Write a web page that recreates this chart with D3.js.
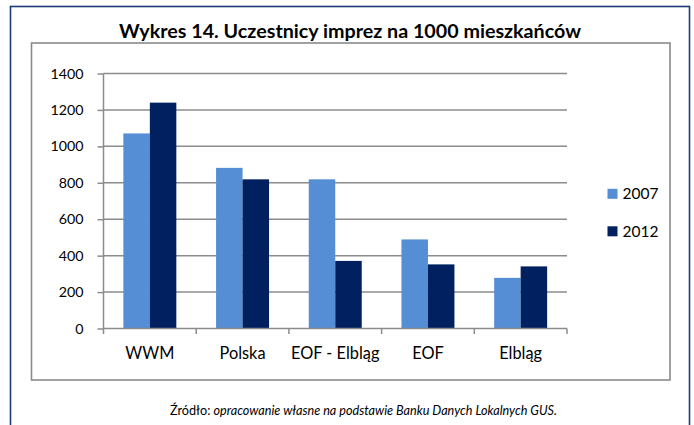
<!DOCTYPE html>
<html>
<head>
<meta charset="utf-8">
<script src="https://cdn.jsdelivr.net/npm/d3@7"></script>
<style>
  body { margin: 0; background: #fff; }
  text { font-family: Lato, "Open Sans", sans-serif; fill: #000; }
</style>
</head>
<body>
<script>
// Data
var categories = ["WWM", "Polska", "EOF - Elbląg", "EOF", "Elbląg"]
var years = ["2007", "2012"]
var values2007 = [1071, 882, 819, 489, 278]
var values2012 = [1240, 819, 371, 352, 341]
var yTicks = [0, 200, 400, 600, 800, 1000, 1200, 1400]

var title = "Wykres 14. Uczestnicy imprez na 1000 mieszkańców"
var sourceLabel = "Źródło: "
var sourceText = "opracowanie własne na podstawie Banku Danych Lokalnych GUS."

// Layout
var svg_width = 694, svg_height = 425
var plot = {left: 103.5, right: 567, top: 73.5, bottom: 328.5}
var colors = {"2007": "#558ed5", "2012": "#002060"}
var grid_color = "#8c8c8c"

var svg = d3.select("body")
  .append("svg")
  .attr("width", svg_width)
  .attr("height", svg_height)

// font size so that a string gets a wanted width
function sizeFor(str, weight, style, target) {
  var t = svg.append("text")
    .style("font-size", "100px")
    .style("font-weight", weight)
    .style("font-style", style)
    .text(str)
  var w = t.node().getComputedTextLength()
  t.remove()
  return 100 * target / w
}

var tickSize = sizeFor("1400", "normal", "normal", 33)
var catSize = sizeFor("Polska", "normal", "normal", 46)
var legSize = sizeFor("2007", "normal", "normal", 36)
var titleSize = sizeFor(title, "bold", "normal", 462)

// Outer frame
svg.append("rect")
  .attr("x", 10.5).attr("y", 6.5)
  .attr("width", 679).attr("height", 440)
  .attr("fill", "none")
  .attr("stroke", "#1f3a78")
  .attr("stroke-width", 1.6)

// Chart frame
svg.append("rect")
  .attr("x", 31.5).attr("y", 43)
  .attr("width", 638.5).attr("height", 337)
  .attr("fill", "none")
  .attr("stroke", "#8a8a8a")
  .attr("stroke-width", 1.6)

// Title
svg.append("text")
  .attr("x", 350).attr("y", 38)
  .attr("text-anchor", "middle")
  .style("font-weight", "bold")
  .style("font-size", titleSize + "px")
  .text(title)

// Scales
var x0 = d3.scaleBand()
  .domain(categories)
  .range([plot.left, plot.right])

var x1 = d3.scaleBand()
  .domain(years)
  .range([0, x0.bandwidth()])
  .paddingOuter(0.75)

var y = d3.scaleLinear()
  .domain([0, 1400])
  .range([plot.bottom, plot.top])

// Gridlines
svg.append("g")
  .selectAll("line")
  .data(yTicks.filter(function(d) { return d > 0 }))
  .enter().append("line")
    .attr("x1", plot.left).attr("x2", plot.right)
    .attr("y1", function(d) { return y(d) })
    .attr("y2", function(d) { return y(d) })
    .attr("stroke", grid_color)
    .attr("stroke-width", 1.5)

// Bars
var rows = categories.map(function(c, i) {
  return {cat: c, vals: [{year: "2007", v: values2007[i]}, {year: "2012", v: values2012[i]}]}
})

svg.append("g")
  .selectAll("g")
  .data(rows)
  .enter().append("g")
    .attr("transform", function(d) { return "translate(" + x0(d.cat) + ",0)" })
  .selectAll("rect")
  .data(function(d) { return d.vals })
  .enter().append("rect")
    .attr("x", function(d) { return x1(d.year) })
    .attr("width", x1.bandwidth())
    .attr("y", function(d) { return y(d.v) })
    .attr("height", function(d) { return y(0) - y(d.v) })
    .attr("fill", function(d) { return colors[d.year] })

// Y axis
var yAxis = svg.append("g")
  .attr("transform", "translate(" + plot.left + ",0)")
  .call(d3.axisLeft(y).tickValues(yTicks).tickFormat(d3.format("d")).tickSize(6).tickPadding(14))
yAxis.select(".domain").attr("stroke", grid_color).attr("stroke-width", 1.5)
  .attr("d", "M0," + plot.top + "V" + (plot.bottom + 5.5))
yAxis.selectAll(".tick line").attr("stroke", grid_color).attr("stroke-width", 1.5)
yAxis.selectAll(".tick text")
  .style("font-family", "Lato, 'Open Sans', sans-serif")
  .style("font-size", tickSize + "px")
  .attr("fill", "#000")

// X axis line and boundary ticks
svg.append("line")
  .attr("x1", plot.left).attr("x2", plot.right)
  .attr("y1", y(0)).attr("y2", y(0))
  .attr("stroke", grid_color)
  .attr("stroke-width", 1.5)

var bounds = categories.map(function(c) { return x0(c) }).concat([plot.right])
svg.append("g")
  .selectAll("line")
  .data(bounds.slice(1))
  .enter().append("line")
    .attr("x1", function(d) { return d }).attr("x2", function(d) { return d })
    .attr("y1", y(0)).attr("y2", y(0) + 5.5)
    .attr("stroke", grid_color)
    .attr("stroke-width", 1.5)

// Category labels
svg.append("g")
  .selectAll("text")
  .data(categories)
  .enter().append("text")
    .attr("x", function(d) { return x0(d) + x0.bandwidth() / 2 })
    .attr("y", 359)
    .attr("text-anchor", "middle")
    .style("font-size", catSize + "px")
    .text(function(d) { return d })

// Legend
var legend = svg.append("g")
  .selectAll("g")
  .data(years)
  .enter().append("g")
    .attr("transform", function(d, i) { return "translate(607.5," + (193.8 + i * 37.5) + ")" })

legend.append("rect")
  .attr("x", 0).attr("y", -5)
  .attr("width", 10).attr("height", 10)
  .attr("fill", function(d) { return colors[d] })

legend.append("text")
  .attr("x", 15).attr("y", 0)
  .attr("dy", "0.36em")
  .style("font-size", legSize + "px")
  .text(function(d) { return d })

// Source line
var src = svg.append("text")
  .attr("x", 363.5).attr("y", 415)
  .attr("text-anchor", "middle")
src.append("tspan").text(sourceLabel)
src.append("tspan").style("font-style", "italic").text(sourceText)
var srcW = src.node().getComputedTextLength()
src.style("font-size", (16 * 387 / srcW) + "px")
</script>
</body>
</html>
